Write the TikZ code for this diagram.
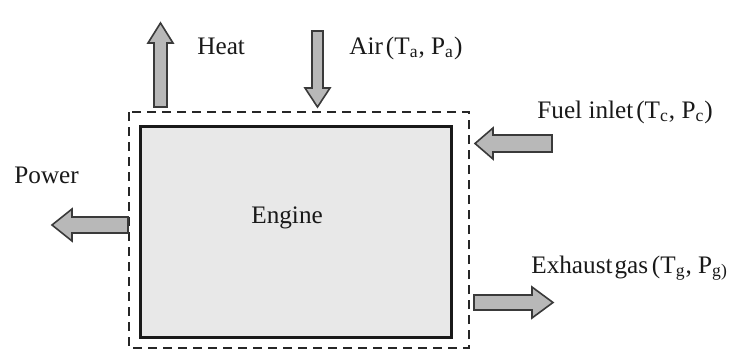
\documentclass[tikz,border=0pt]{standalone}
\usepackage{fontspec}
\setmainfont{Liberation Serif}
\definecolor{arrfill}{HTML}{B8B8B8}
\definecolor{arrline}{HTML}{3A3A3A}
\definecolor{engfill}{HTML}{E8E8E8}
\tikzset{
  blockarrow/.style={fill=arrfill, draw=arrline, line width=0.8pt, line join=miter},
  lbl/.style={inner sep=0pt, anchor=base west, font=\fontsize{12.6}{15}\selectfont, text=black!90},
  boundary/.style={draw=black!85, line width=1.4pt, dash pattern=on 4.5pt off 3pt},
  enginebox/.style={draw=black!90, fill=engfill, line width=1.5pt}
}
\begin{document}
\begin{tikzpicture}[x=0.5pt,y=-0.5pt]
\useasboundingbox (0,0) rectangle (735,350);
\fill[white] (0,0) rectangle (735,350);
% engine and boundary
\draw[enginebox] (140,126) rectangle (451,337);
\draw[boundary] (129,112) rectangle (469,348);
\node[lbl] (engine) at (251,223) {Engine};
% heat arrow (up)
\draw[blockarrow] (154,107) -- (154,43) -- (148,43) -- (160.5,23) -- (173,43) -- (167,43) -- (167,107) -- cycle;
\node[lbl] (heat) at (197,54) {Heat};
% air arrow (down)
\draw[blockarrow] (312,31) -- (312,88) -- (305,88) -- (317.5,107) -- (330,88) -- (323,88) -- (323,31) -- cycle;
\node[lbl] (air) at (349,54) {Air\hspace{0.12em}(T\textsubscript{a}, P\textsubscript{a})};
% fuel arrow (left)
\draw[blockarrow] (552,135) -- (493,135) -- (493,128) -- (475,143.5) -- (493,159) -- (493,152) -- (552,152) -- cycle;
\node[lbl] (fuel) at (537,118) {Fuel inlet\hspace{0.12em}(T\textsubscript{c}, P\textsubscript{c})};
% exhaust arrow (right)
\draw[blockarrow] (474,295) -- (532,295) -- (532,287) -- (553,302.5) -- (532,318) -- (532,310) -- (474,310) -- cycle;
\node[lbl] (exhaust) at (531,273) {Exhaust\hspace{0.08em}gas\hspace{0.15em}(T\textsubscript{g}, P\textsubscript{g)}};
% power arrow (left)
\draw[blockarrow] (128,217) -- (72,217) -- (72,209) -- (52,225) -- (72,241) -- (72,233) -- (128,233) -- cycle;
\node[lbl] (power) at (14,183) {Power};
\end{tikzpicture}
\end{document}
